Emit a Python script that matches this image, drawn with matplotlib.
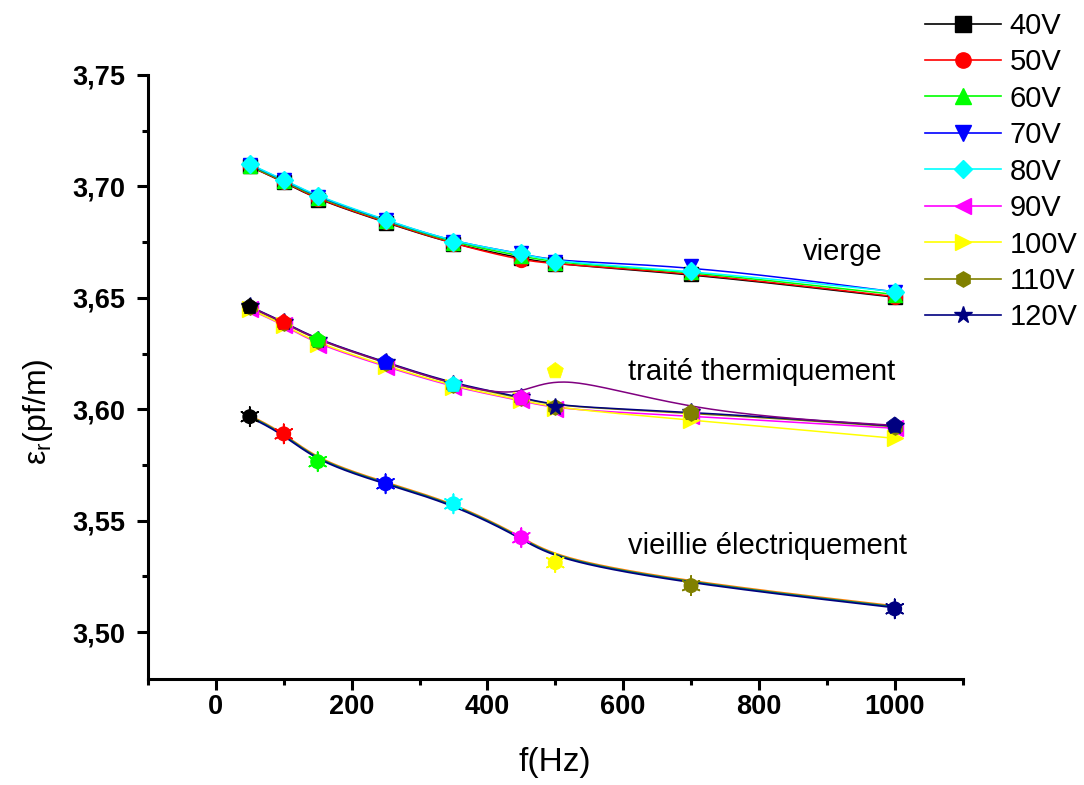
import numpy as np
import matplotlib
matplotlib.use('Agg')
import matplotlib.pyplot as plt
from matplotlib.lines import Line2D
from matplotlib.ticker import MultipleLocator, FuncFormatter

plt.rcParams['font.family'] = ['Liberation Sans', 'DejaVu Sans']

# frequencies (Hz)
freq = [50, 100, 150, 250, 350, 450, 500, 700, 1000]

volt_labels = ['40V', '50V', '60V', '70V', '80V', '90V', '100V', '110V', '120V']
colors = ['#000000', '#ff0000', '#00ff00', '#0000ff', '#00ffff',
          '#ff00ff', '#ffff00', '#808000', '#000080']
markers = ['s', 'o', '^', 'v', 'D', '<', '>', 'h', '*']

# vierge (40V..80V)
vierge_40 = [3.7090, 3.7020, 3.6940, 3.6838, 3.6740, 3.6678, 3.6650, 3.6608, 3.6503]
vierge_50 = [3.7090, 3.7022, 3.6942, 3.6840, 3.6742, 3.6668, 3.6652, 3.6612, 3.6506]
vierge_60 = [3.7093, 3.7025, 3.6948, 3.6845, 3.6746, 3.6688, 3.6657, 3.6618, 3.6515]
vierge_70 = [3.7098, 3.7028, 3.6952, 3.6848, 3.6750, 3.6700, 3.6662, 3.6645, 3.6527]
vierge_80 = [3.7100, 3.7030, 3.6955, 3.6850, 3.6750, 3.6700, 3.6660, 3.6622, 3.6528]
vierge = [vierge_40, vierge_50, vierge_60, vierge_70, vierge_80]

# traite thermiquement (90V..120V)
traite_90 = [3.6448, 3.6378, 3.6290, 3.6192, 3.6098, 3.6040, 3.6000, 3.5970, 3.5915]
traite_100 = [3.6450, 3.6380, 3.6295, 3.6196, 3.6102, 3.6042, 3.6005, 3.5952, 3.5870]
traite_110 = [3.6458, 3.6388, 3.6308, 3.6208, 3.6110, 3.6052, 3.6012, 3.5985, 3.5922]
traite_120 = [3.6462, 3.6392, 3.6312, 3.6212, 3.6114, 3.6056, 3.6012, 3.5990, 3.5925]
traite = [traite_90, traite_100, traite_110, traite_120]
# point series drawn with pentagons, colour by point index
traite_pts = [3.6460, 3.6390, 3.6310, 3.6210, 3.6110, 3.6050, 3.6172, 3.5985, 3.5928]

# vieillie electriquement
vieil_pts = [3.5967, 3.5890, 3.5765, 3.5666, 3.5576, 3.5424, 3.5312, 3.5209, 3.5105]
vieil_a = [3.5973, 3.5895, 3.5772, 3.5672, 3.5581, 3.5431, 3.5332, 3.5224, 3.5118]
vieil_b = [3.5969, 3.5891, 3.5768, 3.5668, 3.5577, 3.5427, 3.5328, 3.5220, 3.5114]
vieil_c = [3.5965, 3.5887, 3.5764, 3.5664, 3.5573, 3.5423, 3.5324, 3.5216, 3.5110]
vieil_lines = [vieil_a, vieil_b, vieil_c]
vieil_line_colors = ['#ff8000', '#008060', '#000080']


def bspline(x, y, n=40):
    # uniform cubic B-spline, clamped on the end points (like Origin "B-Spline")
    px = np.r_[[x[0]] * 2, x, [x[-1]] * 2].astype(float)
    py = np.r_[[y[0]] * 2, y, [y[-1]] * 2].astype(float)
    t = np.linspace(0, 1, n)
    B = np.array([(1 - t) ** 3,
                  3 * t ** 3 - 6 * t ** 2 + 4,
                  -3 * t ** 3 + 3 * t ** 2 + 3 * t + 1,
                  t ** 3]) / 6.0
    xs, ys = [], []
    for i in range(len(px) - 3):
        xs.append(B.T @ px[i:i + 4])
        ys.append(B.T @ py[i:i + 4])
    return np.concatenate(xs), np.concatenate(ys)


fig = plt.figure(figsize=(10.84, 7.85), dpi=100)
ax = fig.add_axes([0.1365, 0.135, 0.7515, 0.7695])

# vierge
for i, vals in enumerate(vierge):
    sx, sy = bspline(freq, vals)
    ax.plot(sx, sy, color=colors[i], lw=1.1, zorder=2 + i * 0.1)
    ax.plot(freq, vals, ls='none', marker=markers[i], ms=10 if markers[i] != 'D' else 9,
            color=colors[i], mec=colors[i], zorder=3 + i * 0.1)

# traite thermiquement
for j, vals in enumerate(traite):
    i = j + 5
    sx, sy = bspline(freq, vals)
    ax.plot(sx, sy, color=colors[i], lw=1.1, zorder=2 + i * 0.1)
    ax.plot(freq, vals, ls='none', marker=markers[i], ms=11 if markers[i] != '*' else 13,
            color=colors[i], mec=colors[i], zorder=3 + i * 0.1)
sx, sy = bspline(freq, traite_pts)
ax.plot(sx, sy, color='#800080', lw=1.1, zorder=2.9)
ax.scatter(freq, traite_pts, marker='p', s=150, c=colors, edgecolors=colors,
           linewidths=0.5, zorder=4)

# vieillie electriquement
for k, vals in enumerate(vieil_lines):
    sx, sy = bspline(freq, vals)
    ax.plot(sx, sy, color=vieil_line_colors[k], lw=1.2, zorder=2)
ax.scatter(freq, vieil_pts, marker='o', s=95, c=colors, edgecolors=colors, zorder=4)
ax.scatter(freq, vieil_pts, marker=(6, 2, 0), s=190, c=colors, linewidths=1.2, zorder=4)

ax.text(865, 3.6706, 'vierge', fontsize=21, ha='left', va='center')
ax.text(607, 3.6168, 'traité thermiquement', fontsize=21, ha='left', va='center')
ax.text(607, 3.5389, 'vieillie électriquement', fontsize=21, ha='left', va='center')

ax.set_xlim(-100, 1100)
ax.set_ylim(3.479, 3.75)
ax.xaxis.set_major_locator(MultipleLocator(200))
ax.xaxis.set_minor_locator(MultipleLocator(100))
ax.yaxis.set_major_locator(MultipleLocator(0.05))
ax.yaxis.set_minor_locator(MultipleLocator(0.025))
ax.yaxis.set_major_formatter(FuncFormatter(lambda v, p: f'{v:.2f}'.replace('.', ',')))

for s in ['top', 'right']:
    ax.spines[s].set_visible(False)
for s in ['left', 'bottom']:
    ax.spines[s].set_linewidth(2.2)
ax.tick_params(which='major', length=8, width=2.2, direction='out')
ax.tick_params(which='minor', length=4, width=2.2, direction='out')
ax.tick_params(axis='x', which='major', pad=3)
ax.tick_params(axis='y', which='major', pad=8)
for lab in ax.get_xticklabels() + ax.get_yticklabels():
    lab.set_fontsize(19.5)
    lab.set_fontweight('bold')

fig.text(555 / 1084, 1 - 763 / 785, 'f(Hz)', fontsize=24, ha='center', va='center')
fig.text(38 / 1084, 1 - 412 / 785, r'ε$_\mathregular{r}$(pf/m)', fontsize=23,
         rotation=90, ha='center', va='center')

handles = []
for i in range(9):
    ms = 11
    if markers[i] == 'D':
        ms = 9
    if markers[i] == '*':
        ms = 13
    handles.append(Line2D([], [], color=colors[i], lw=1.2, marker=markers[i],
                          ms=ms, mec=colors[i]))
fig.legend(handles, volt_labels, loc='upper left', bbox_to_anchor=(925 / 1084, 0.985),
           frameon=False, fontsize=21, handlelength=2.6, handletextpad=0.3,
           labelspacing=0.29, borderpad=0, borderaxespad=0)

fig.savefig('out.png', dpi=100)
